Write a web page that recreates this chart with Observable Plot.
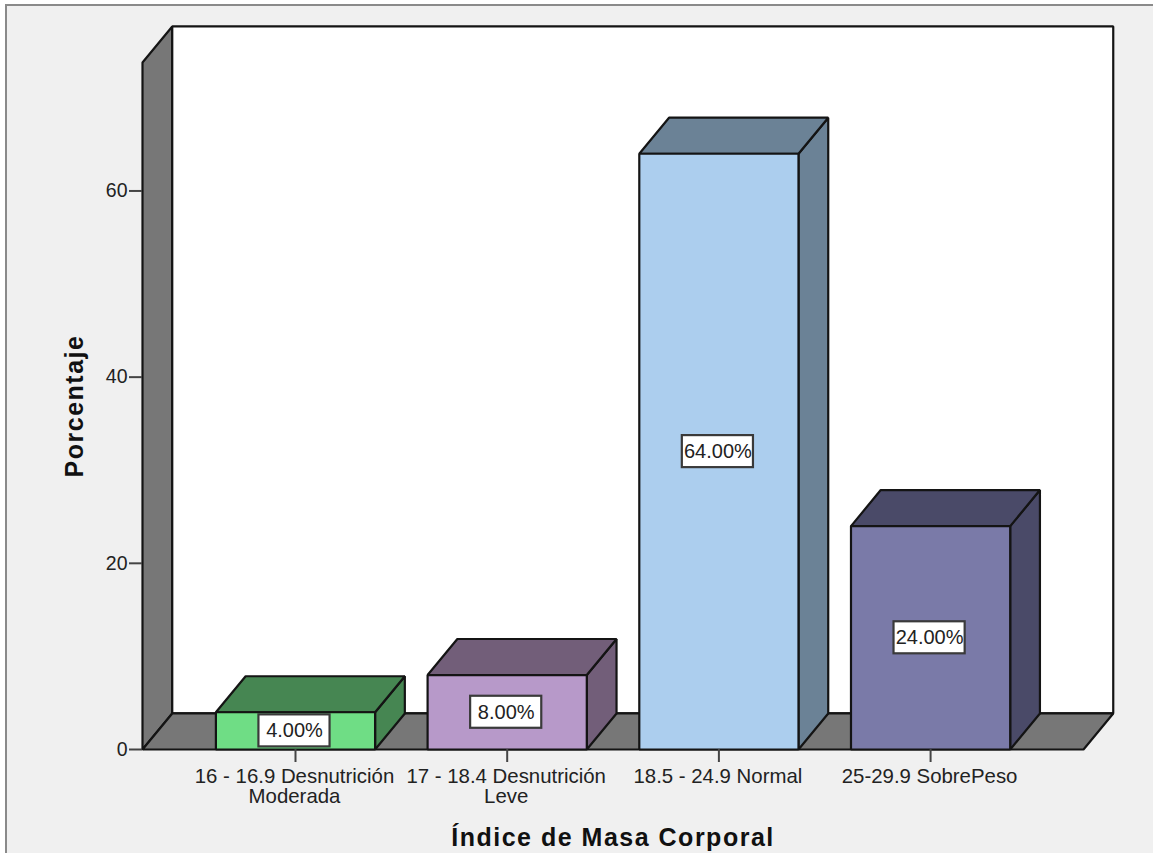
<!DOCTYPE html>
<html>
<head>
<meta charset="utf-8">
<script src="https://cdn.jsdelivr.net/npm/d3@7"></script>
<script src="https://cdn.jsdelivr.net/npm/@observablehq/plot@0.6"></script>
<style>
  html, body { margin: 0; padding: 0; background: #fff; overflow: hidden; }
  #panel { position: absolute; left: 5px; top: 4px; width: 1148px; height: 849px;
           box-sizing: border-box; background: #f0f0f0;
           border-top: 2px solid #8a8a8a; border-left: 2px solid #8a8a8a; }
  #chart { position: absolute; left: 0; top: 0; }
  #chart svg { background: transparent; display: block; }
  /* Axis titles are set with open tracking */
  #chart g[font-weight="bold"] text { letter-spacing: 1.5px; }
</style>
</head>
<body>
<div id="panel"></div>
<div id="chart"></div>
<script>
// Body-mass-index groups and their share of the sample
const categories = ["16 - 16.9 Desnutrición\nModerada", "17 - 18.4 Desnutrición\nLeve", "18.5 - 24.9 Normal", "25-29.9 SobrePeso"];
const percentages = [4, 8, 64, 24];
const yTicks = [0, 20, 40, 60];

// Face colours of each bar: front, then the shaded top and side
const frontColors = ["#6fdd85", "#b799c9", "#acceee", "#7a7aa8"];
const shadeColors = ["#468652", "#725e79", "#6b8296", "#4a4a68"];
const wallColor = "#777777";
const edgeColor = "#141414";

// Extent of the box and the oblique depth, in scale units
const xMin = -0.7227, xMax = 3.7223, yMax = 73.8;
const depthX = 0.1405, depthY = 3.87;
const barHalf = 0.376;
const boxHalfX = 0.168, boxHalfY = 1.72;

// Turns a list of [x, y] corners into rows for a closed outline
let faceId = 0;
const faces = [];
function face(color, corners) {
  const id = faceId++;
  for (const [x, y] of corners) faces.push({id, color, x, y});
}

face(wallColor, [[xMin, 0], [xMin + depthX, depthY], [xMin + depthX, yMax + depthY], [xMin, yMax]]);
face("#ffffff", [[xMin + depthX, depthY], [xMax + depthX, depthY], [xMax + depthX, yMax + depthY], [xMin + depthX, yMax + depthY]]);
face(wallColor, [[xMin, 0], [xMin + depthX, depthY], [xMax + depthX, depthY], [xMax, 0]]);

percentages.forEach((v, i) => {
  const l = i - barHalf, r = i + barHalf;
  face(shadeColors[i], [[r, 0], [r + depthX, depthY], [r + depthX, v + depthY], [r, v]]);
  face(shadeColors[i], [[l, v], [l + depthX, v + depthY], [r + depthX, v + depthY], [r, v]]);
  face(frontColors[i], [[l, 0], [r, 0], [r, v], [l, v]]);
});

const labelRows = percentages.map((v, i) => ({i, v, mid: v / 2}));
const tickPositions = categories.map((_, i) => i);
const sans = "'Liberation Sans', Arial, sans-serif";

const plot = Plot.plot({
  width: 1153,
  height: 853,
  marginLeft: 142,
  marginRight: 70,
  marginTop: 62,
  marginBottom: 104,
  style: {background: "transparent", fontFamily: sans},
  x: {domain: [xMin, xMax]},
  y: {domain: [0, yMax]},
  marks: [
    Plot.line(faces, {x: "x", y: "y", z: "id", fill: "color", stroke: edgeColor, strokeWidth: 2.2, curve: "linear-closed", strokeLinejoin: "miter"}),
    Plot.axisY({ticks: yTicks, tickSize: 13, tickPadding: 2, fontSize: 19.5, label: null, stroke: "#444", strokeWidth: 2, color: "#222"}),
    Plot.axisX({ticks: tickPositions, tickFormat: () => "", tickSize: 13, label: null, stroke: "#444", strokeWidth: 2}),
    Plot.axisX({ticks: tickPositions, tickFormat: (i) => categories[i], tickSize: 0, tickPadding: 19, fontSize: 20.4, label: null, color: "#222", lineHeight: 1, textOverflow: null, lineWidth: Infinity, dx: -1}),
    Plot.rect(labelRows, {x1: (d) => d.i - boxHalfX, x2: (d) => d.i + boxHalfX, y1: (d) => d.mid - boxHalfY, y2: (d) => d.mid + boxHalfY, fill: "#fff", stroke: "#3a3a3a", strokeWidth: 2.2, dx: -1}),
    Plot.text(labelRows, {x: "i", y: "mid", text: (d) => d.v.toFixed(2) + "%", fontSize: 20, fill: "#222", dx: -1}),
    Plot.text(["Porcentaje"], {frameAnchor: "left", textAnchor: "middle", dx: -68, rotate: -90, fontSize: 25, fontWeight: "bold", fill: "#111"}),
    Plot.text(["Índice de Masa Corporal"], {frameAnchor: "bottom", textAnchor: "middle", dy: 96, fontSize: 25, fontWeight: "bold", fill: "#111"})
  ]
});
document.getElementById("chart").append(plot);
</script>
</body>
</html>
